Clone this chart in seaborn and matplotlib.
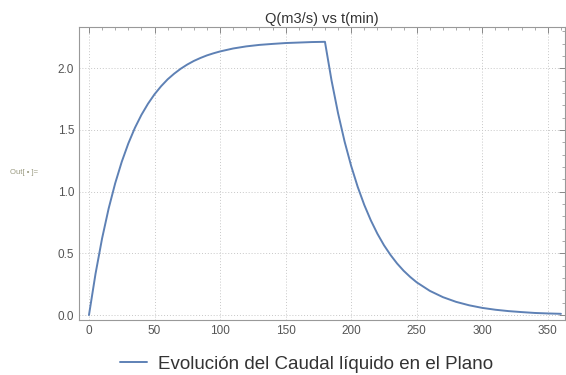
import numpy as np
import pandas as pd
import seaborn as sns
import matplotlib.pyplot as plt
from matplotlib.ticker import MultipleLocator

# Data (t in min, Q in m3/s)
t_min = [0, 5, 10, 15, 20, 25, 30, 35, 40, 45, 50, 55, 60, 65, 70, 75, 80, 85, 90, 95, 100,
         110, 120, 130, 140, 150, 160, 170, 180, 185, 190, 195, 200, 205, 210, 215, 220,
         225, 230, 235, 240, 245, 250, 260, 270, 280, 290, 300, 310, 320, 330, 340, 350, 360]
q_m3s = [0.0, 0.335, 0.621, 0.863, 1.068, 1.242, 1.390, 1.516, 1.622, 1.712, 1.789, 1.854,
         1.910, 1.956, 1.996, 2.030, 2.059, 2.083, 2.104, 2.121, 2.136,
         2.160, 2.177, 2.189, 2.197, 2.204, 2.208, 2.212, 2.214, 1.902, 1.635, 1.405,
         1.208, 1.038, 0.892, 0.767, 0.659, 0.566, 0.487, 0.418, 0.359, 0.309, 0.265,
         0.196, 0.145, 0.107, 0.079, 0.058, 0.043, 0.032, 0.024, 0.017, 0.013, 0.010]
series_label = 'Evolución del Caudal líquido en el Plano'
title = 'Q(m3/s) vs t(min)'

df = pd.DataFrame({'t': t_min, 'Q': q_m3s})

sns.set_style('white')
plt.rcParams['font.family'] = ['Liberation Sans', 'DejaVu Sans']

fig = plt.figure(figsize=(5.66, 3.75), dpi=100)
ax = fig.add_axes([0.1396, 0.1467, 0.8584, 0.7813])

sns.lineplot(data=df, x='t', y='Q', ax=ax, color='#5E81B5', linewidth=1.4, label=series_label, legend=False)

ax.set_xlim(-7.6, 363)
ax.set_ylim(-0.04, 2.334)
ax.set_xlabel('')
ax.set_ylabel('')
ax.set_title(title, fontsize=10.5, color='#333333', pad=3)

ax.xaxis.set_major_locator(MultipleLocator(50))
ax.xaxis.set_minor_locator(MultipleLocator(10))
ax.yaxis.set_major_locator(MultipleLocator(0.5))
ax.yaxis.set_minor_locator(MultipleLocator(0.1))
ax.tick_params(which='both', direction='in', top=True, right=True, colors='#888888',
               labelcolor='#555555', labelsize=8.5)
ax.tick_params(which='major', length=4, width=0.7)
ax.tick_params(which='minor', length=2, width=0.5)
ax.grid(True, which='major', linestyle=(0, (1, 2)), color='#c8c8c8', linewidth=0.7)
for s in ax.spines.values():
    s.set_color('#999999')
    s.set_linewidth(0.8)

fig.text(0.018, 0.535, 'Out[ \u2022 ]=', fontsize=5.5, color='#9a9a80')

handles, labels = ax.get_legend_handles_labels()
fig.legend(handles, labels, loc='center', bbox_to_anchor=(0.5415, 0.029), frameon=False,
           fontsize=13.5, handlelength=1.45, handletextpad=0.55, labelcolor='#333333')

fig.savefig('out.png', dpi=100)
